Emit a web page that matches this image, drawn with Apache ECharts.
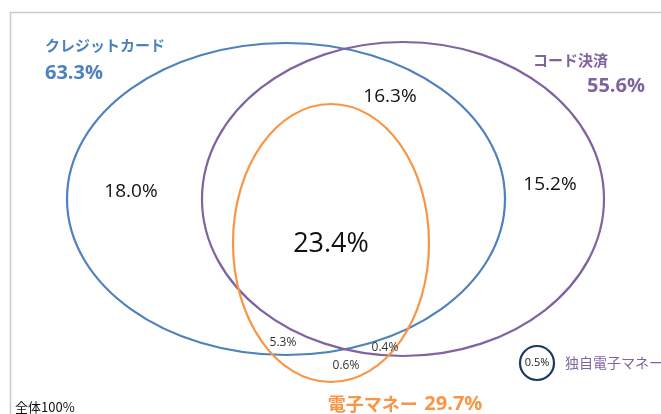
<!DOCTYPE html>
<html>
<head>
<meta charset="utf-8">
<script src="https://cdn.jsdelivr.net/npm/echarts@6/dist/echarts.min.js"></script>
<style>
  html, body { margin: 0; padding: 0; background: #fff; }
  #chart { width: 661px; height: 414px; }
</style>
</head>
<body>
<div id="chart"></div>
<script>
// Payment method usage (share of all respondents, %)
const setNames = ['クレジットカード', 'コード決済', '電子マネー'];
const setTotals = [63.3, 55.6, 29.7];

// Region shares
const regionNames = ['カードのみ', 'カード・コード', 'コードのみ', '3種すべて', 'カード・電子マネー', 'コード・電子マネー', '電子マネーのみ'];
const regionValues = [18.0, 16.3, 15.2, 23.4, 5.3, 0.4, 0.6];

const soloName = '独自電子マネー';
const soloValue = 0.5;
const totalLabel = '全体';
const totalValue = 100;

// Drawing geometry (pixel space of the canvas)
const setColors = ['#4f81bd', '#8064a2', '#f79646'];
const setShapes = [
  [286, 199, 219, 156],
  [403, 199, 201, 157],
  [331, 243, 98, 139]
];
const setLabelPos = [
  { name: [45, 45, 'left'], value: [45, 73, 'left'] },
  { name: [608, 60, 'right'], value: [645, 86, 'right'] },
  null
];
const regionPos = [
  [131, 192, 19], [390, 97, 19], [550, 185, 19], [331, 244, 27],
  [283, 343, 12], [385, 348, 12], [346, 366, 12]
];

const CJK = '"Noto Sans CJK JP", "Noto Sans", sans-serif';
const NUM = '"Open Sans", "Noto Sans", sans-serif';

const chart = echarts.init(document.getElementById('chart'), null, { renderer: 'canvas' });

const ellipseData = setShapes.map((s, i) => ({ value: s, itemStyle: { color: setColors[i] } }));

const textData = [];
regionValues.forEach((v, i) => {
  const p = regionPos[i];
  textData.push({ value: [p[0], p[1]], text: v.toFixed(1) + '%', size: p[2], color: p[2] > 14 ? '#111' : '#333', font: NUM, weight: 'normal', align: 'center' });
});
setNames.forEach((n, i) => {
  const lp = setLabelPos[i];
  if (!lp) return;
  textData.push({ value: [lp.name[0], lp.name[1]], text: n, size: 15, color: setColors[i], font: CJK, weight: 'bold', align: lp.name[2] });
  textData.push({ value: [lp.value[0], lp.value[1]], text: setTotals[i].toFixed(1) + '%', size: 20, color: setColors[i], font: NUM, weight: 'bold', align: lp.value[2] });
});
textData.push({ value: [565, 363], text: soloName, size: 14, color: '#8064a2', font: CJK, weight: 'normal', align: 'left' });
textData.push({ value: [537, 363], text: soloValue.toFixed(1) + '%', size: 11, color: '#222', font: NUM, weight: 'normal', align: 'center' });
textData.push({ value: [15, 407], text: totalLabel + totalValue + '%', size: 13, color: '#111', font: CJK, weight: 'normal', align: 'left' });

chart.setOption({
  animation: false,
  grid: { left: 0, right: 0, top: 0, bottom: 0 },
  xAxis: { type: 'value', min: 0, max: 661, show: false },
  yAxis: { type: 'value', min: 0, max: 414, inverse: true, show: false },
  graphic: [{
    type: 'rect',
    shape: { x: 10.5, y: 12.5, width: 700, height: 450 },
    style: { fill: 'none', stroke: '#c9c9c9', lineWidth: 1.5 },
    z: -1
  }],
  series: [
    {
      type: 'custom',
      name: 'sets',
      coordinateSystem: 'cartesian2d',
      data: ellipseData,
      renderItem: function (params, api) {
        const c = api.coord([api.value(0), api.value(1)]);
        const s = api.size([api.value(2), api.value(3)]);
        return {
          type: 'ellipse',
          shape: { cx: c[0], cy: c[1], rx: s[0], ry: s[1] },
          style: { fill: 'none', stroke: api.visual('color'), lineWidth: 2.2 }
        };
      }
    },
    {
      type: 'custom',
      name: 'solo',
      coordinateSystem: 'cartesian2d',
      data: [[537, 363, 17]],
      renderItem: function (params, api) {
        const c = api.coord([api.value(0), api.value(1)]);
        const r = api.size([api.value(2), 0])[0];
        return {
          type: 'circle',
          shape: { cx: c[0], cy: c[1], r: r },
          style: { fill: 'none', stroke: '#1f3864', lineWidth: 2.2 }
        };
      }
    },
    {
      type: 'custom',
      name: 'labels',
      coordinateSystem: 'cartesian2d',
      data: textData,
      z: 5,
      renderItem: function (params, api) {
        const d = textData[params.dataIndex];
        const c = api.coord([api.value(0), api.value(1)]);
        return {
          type: 'text',
          x: c[0], y: c[1],
          style: {
            text: d.text,
            fill: d.color,
            fontSize: d.size,
            fontFamily: d.font,
            fontWeight: d.weight,
            align: d.align,
            verticalAlign: 'middle'
          }
        };
      }
    },
    {
      // Electronic money title under the diagram, name and share in one line
      type: 'custom',
      name: 'emoney-title',
      coordinateSystem: 'cartesian2d',
      data: [[405, 404]],
      renderItem: function (params, api) {
        const c = api.coord([api.value(0), api.value(1)]);
        return {
          type: 'text',
          x: c[0], y: c[1],
          style: {
            text: '{n|' + setNames[2] + '}  {v|' + setTotals[2].toFixed(1) + '%}',
            align: 'center',
            verticalAlign: 'middle',
            rich: {
              n: { fontSize: 18, fontFamily: CJK, fontWeight: 'bold', fill: setColors[2], color: setColors[2] },
              v: { fontSize: 20, fontFamily: NUM, fontWeight: 'bold', fill: setColors[2], color: setColors[2] }
            }
          }
        };
      }
    }
  ]
});
</script>
</body>
</html>
